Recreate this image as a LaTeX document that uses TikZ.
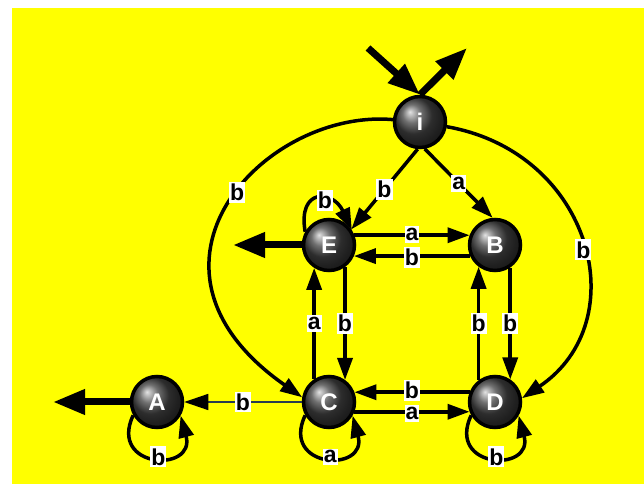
\documentclass[tikz,border=0pt]{standalone}
\usepackage{fontspec}
\setsansfont{Liberation Sans}
\usetikzlibrary{arrows.meta,positioning}
\definecolor{slateline}{RGB}{40,60,80}
\definecolor{bgyellow}{RGB}{255,255,0}

\begin{document}
\begin{tikzpicture}[x=1pt,y=1pt,on grid,>={Triangle[length=22pt,width=15pt]},
  line width=3.5pt,
  st/.style={circle,draw=black,line width=3.5pt,minimum size=51pt,inner sep=0pt,
    ball color=black!75,text=white,font=\sffamily\bfseries\fontsize{24}{24}\selectfont},
  lbl/.style={fill=white,inner xsep=1pt,inner ysep=2pt,
    font=\sffamily\bfseries\fontsize{23}{23}\selectfont,text=black},
  big/.style={line width=7pt,-{Triangle[length=32pt,width=24pt]}}]

  % Sfondo
  \useasboundingbox (0,0) rectangle (644,484);
  \fill[bgyellow] (12,0) rectangle (644,476);

  % Stati
  \node[st] (i) at (420,362) {i};
  \node[st,below left=123pt and 91pt of i] (E) {E};
  \node[st,right=166pt of E] (B) {B};
  \node[st,below=157pt of E] (C) {C};
  \node[st,right=166pt of C] (D) {D};
  \node[st,left=172pt of C] (A) {A};

  \coordinate[above left=74pt and 52pt of i] (in0);
  \coordinate[above right=74pt and 47pt of i] (out0);
  \coordinate[left=96pt of E] (outE);
  \coordinate[left=104pt of A] (outA);

  % Ingresso e uscite
  \draw[big] (in0) -- (i.north);
  \draw[big] (i.north) -- (out0);
  \draw[big] (E.west) -- (outE);
  \draw[big] (A.west) -- (outA);

  % Transizioni
  \path[->]
    (i.265) edge node[lbl] {b} (E.35)
    (i.-80) edge node[lbl] {a} (B.95)
    (i) edge[out=175,in=145,out looseness=1.13,in looseness=2]
      node[lbl,pos=.46] {b} (C.170)
    (i) edge[out=-10,in=34,out looseness=1.34,in looseness=1.25]
      node[lbl,pos=.52] {b} (D.8)

    (E.21) edge node[lbl,yshift=1pt] {a} (B.159)
    (B.204) edge node[lbl,yshift=-1pt] {b} (E.-24)
    (E.-54) edge node[lbl] {b} (C.54)
    (C.123) edge node[lbl] {a} (E.237)
    (B.-56) edge node[lbl] {b} (D.56)
    (D.127) edge node[lbl] {b} (B.233)
    (D.159) edge node[lbl,yshift=1.5pt] {b} (C.21)
    (C.-21) edge node[lbl,yshift=-2pt] {a} (D.201)

    (E.151) edge[out=100,in=115,looseness=2.45] node[lbl,pos=.6] {b} (E.33)
    (A.209) edge[out=-115,in=-75,looseness=3.2] node[lbl,pos=.55] {b} (A.-30)
    (C.209) edge[out=-115,in=-75,looseness=3.2] node[lbl,pos=.55] {a} (C.-30)
    (D.209) edge[out=-115,in=-75,looseness=3.2] node[lbl,pos=.55] {b} (D.-30);

  \draw[-{Triangle[length=24pt,width=16pt,black]},slateline,line width=1.5pt]
    (C) -- node[lbl] {b} (A);

\end{tikzpicture}
\end{document}
